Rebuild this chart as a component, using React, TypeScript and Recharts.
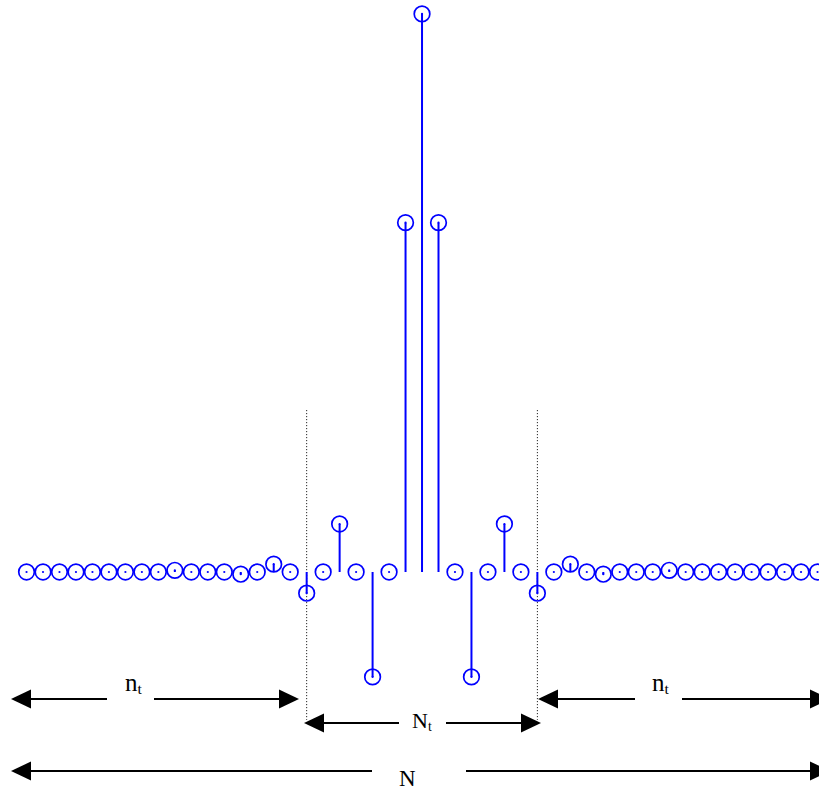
import {
  ComposedChart,
  ReferenceLine,
  Scatter,
  XAxis,
  YAxis,
} from "recharts";

// sample index and amplitude of each stem
const sampleIndex = [
  -24, -23, -22, -21, -20, -19, -18, -17, -16, -15, -14, -13, -12, -11, -10, -9,
  -8, -7, -6, -5, -4, -3, -2, -1, 0, 1, 2, 3, 4, 5, 6, 7, 8, 9, 10, 11, 12, 13,
  14, 15, 16, 17, 18, 19, 20, 21, 22, 23, 24,
];
const sampleValue = [
  0, 0, 0, 0, 0, 0, 0, 0, 0, 0.003, 0, 0, 0, -0.004, 0, 0.014,
  0, -0.038, 0, 0.086, 0, -0.188, 0, 0.626, 1, 0.626, 0, -0.188, 0, 0.086, 0, -0.038, 0, 0.014,
  0, -0.004, 0, 0, 0, 0.003, 0, 0, 0, 0, 0, 0, 0, 0, 0,
];
// edges of the window N_t
const windowEdges = [-7, 7];

const points = sampleIndex.map((n, i) => ({ n, v: sampleValue[i] }));

const BLUE = "#0000ff";
const W = 819;
const H = 791;

const StemHead = (props: any) => {
  const { cx, cy } = props;
  if (cx == null || cy == null) return null;
  return (
    <g>
      <circle cx={cx} cy={cy} r={7.8} fill="none" stroke={BLUE} strokeWidth={1.7} />
      <circle cx={cx} cy={cy} r={1.1} fill={BLUE} />
    </g>
  );
};

const Arrow = ({ x1, x2, y, gapFrom, gapTo }: any) => {
  const head = 20;
  const half = 9.5;
  return (
    <g>
      <line x1={x1 + head} x2={gapFrom} y1={y} y2={y} stroke="#000" strokeWidth={2} />
      <line x1={gapTo} x2={x2 - head} y1={y} y2={y} stroke="#000" strokeWidth={2} />
      <polygon points={`${x1},${y} ${x1 + head},${y - half} ${x1 + head},${y + half}`} fill="#000" />
      <polygon points={`${x2},${y} ${x2 - head},${y - half} ${x2 - head},${y + half}`} fill="#000" />
    </g>
  );
};

const Label = ({ x, y, main, sub, size }: any) => (
  <text x={x} y={y} fontFamily="'Liberation Serif', 'Times New Roman', serif" fontSize={size} fill="#000">
    {main}
    {sub && (
      <tspan fontSize={size * 0.62} dy={3}>
        {sub}
      </tspan>
    )}
  </text>
);

export default function App() {
  return (
    <div style={{ position: "absolute", left: 0, top: 0, width: W, height: H, background: "#fff" }}>
      <ComposedChart width={W} height={H} data={points} margin={{ top: 0, right: 0, bottom: 0, left: 0 }}>
        <XAxis dataKey="n" type="number" domain={[-25.61, 24.09]} allowDataOverflow hide />
        <YAxis type="number" domain={[-0.3925, 1.025]} allowDataOverflow hide />
        {windowEdges.map((x) => (
          <ReferenceLine
            key={"edge" + x}
            segment={[
              { x, y: 0.29 },
              { x, y: -0.265 },
            ]}
            stroke="#000"
            strokeWidth={1}
            strokeDasharray="1 2"
          />
        ))}
        {points
          .filter((p) => p.v !== 0)
          .map((p) => (
            <ReferenceLine
              key={"stem" + p.n}
              segment={[
                { x: p.n, y: 0 },
                { x: p.n, y: p.v },
              ]}
              stroke={BLUE}
              strokeWidth={2}
            />
          ))}
        <Scatter dataKey="v" shape={<StemHead />} isAnimationActive={false} />
      </ComposedChart>
      <svg width={W} height={H} style={{ position: "absolute", left: 0, top: 0, pointerEvents: "none" }}>
        <Arrow x1={11} x2={299} y={699} gapFrom={107} gapTo={154} />
        <Label x={125} y={691} main="n" sub="t" size={25} />
        <Arrow x1={538} x2={830} y={699} gapFrom={635} gapTo={682} />
        <Label x={652} y={691} main="n" sub="t" size={25} />
        <Arrow x1={304} x2={541} y={723} gapFrom={399} gapTo={446} />
        <Label x={412} y={728} main="N" sub="t" size={22} />
        <Arrow x1={11} x2={830} y={771} gapFrom={372} gapTo={466} />
        <Label x={399} y={786} main="N" size={23} />
      </svg>
    </div>
  );
}
